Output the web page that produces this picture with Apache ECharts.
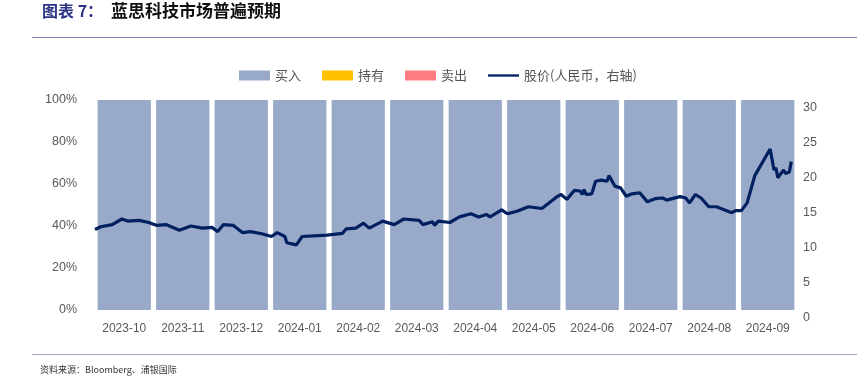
<!DOCTYPE html>
<html>
<head>
<meta charset="utf-8">
<script src="https://cdn.jsdelivr.net/npm/echarts@6/dist/echarts.min.js"></script>
<style>
  html, body { margin: 0; padding: 0; background: #fff; }
  #main { width: 857px; height: 377px; }
</style>
</head>
<body>
<div id="main"></div>
<script>
// 月份（柱状图类目）
var months = ['2023-10', '2023-11', '2023-12', '2024-01', '2024-02', '2024-03',
  '2024-04', '2024-05', '2024-06', '2024-07', '2024-08', '2024-09'];
// 分析师评级占比
var buyPct = [100, 100, 100, 100, 100, 100, 100, 100, 100, 100, 100, 100];
var holdPct = [0, 0, 0, 0, 0, 0, 0, 0, 0, 0, 0, 0];
var sellPct = [0, 0, 0, 0, 0, 0, 0, 0, 0, 0, 0, 0];
// 股价（人民币，右轴）
var priceDates = ['2023-10-01', '2023-10-04', '2023-10-10', '2023-10-15', '2023-10-18', '2023-10-24',
  '2023-10-29', '2023-11-02', '2023-11-07', '2023-11-14', '2023-11-20', '2023-11-26', '2023-12-01',
  '2023-12-04', '2023-12-07', '2023-12-12', '2023-12-17', '2023-12-21', '2023-12-27', '2024-01-01',
  '2024-01-04', '2024-01-08', '2024-01-09', '2024-01-14', '2024-01-17', '2024-01-30', '2024-02-07',
  '2024-02-09', '2024-02-14', '2024-02-18', '2024-02-21', '2024-02-28', '2024-03-05', '2024-03-10',
  '2024-03-18', '2024-03-20', '2024-03-25', '2024-03-26', '2024-03-28', '2024-04-03', '2024-04-08',
  '2024-04-14', '2024-04-18', '2024-04-22', '2024-04-24', '2024-04-30', '2024-05-03', '2024-05-08',
  '2024-05-14', '2024-05-21', '2024-05-29', '2024-05-31', '2024-06-03', '2024-06-07', '2024-06-10',
  '2024-06-11', '2024-06-12', '2024-06-13', '2024-06-16', '2024-06-18', '2024-06-21', '2024-06-24',
  '2024-06-25', '2024-06-28', '2024-07-01', '2024-07-04', '2024-07-07', '2024-07-11', '2024-07-15',
  '2024-07-19', '2024-07-23', '2024-07-25', '2024-08-01', '2024-08-04', '2024-08-06', '2024-08-09',
  '2024-08-12', '2024-08-16', '2024-08-20', '2024-08-21', '2024-08-28', '2024-08-30', '2024-09-02',
  '2024-09-05', '2024-09-09', '2024-09-17', '2024-09-19', '2024-09-20', '2024-09-21', '2024-09-24',
  '2024-09-25', '2024-09-27', '2024-09-28'];
var priceValues = [11.5, 11.9, 12.2, 13.0, 12.7, 12.8,
  12.5, 12.1, 12.2, 11.4, 12.0, 11.7, 11.8,
  11.2, 12.2, 12.1, 11.05, 11.2, 10.9, 10.5,
  11.05, 10.5, 9.6, 9.3, 10.5, 10.7, 10.95,
  11.6, 11.7, 12.4, 11.7, 12.7, 12.2, 13.0,
  12.8, 12.2, 12.6, 12.1, 12.7, 12.5, 13.3,
  13.75, 13.3, 13.65, 13.3, 14.3, 13.75, 14.1,
  14.75, 14.5, 16.2, 16.5, 15.8, 17.1, 17.0,
  16.5, 17.2, 16.5, 16.6, 18.4, 18.55, 18.4,
  19.2, 17.7, 17.45, 16.25, 16.6, 16.75, 15.45,
  15.9, 16.0, 15.7, 16.2, 16.0, 15.3, 16.5,
  16.0, 14.75, 14.75, 14.5, 13.9, 14.2, 14.2,
  15.3, 19.2, 23.0, 20.0, 20.3, 18.9, 20.0,
  19.5, 19.7, 21.2];

var priceData = priceDates.map(function (d, i) { return [d, priceValues[i]]; });

var cjk = '"Noto Sans CJK SC", sans-serif';
var num = '"Liberation Sans Narrow", "Liberation Sans", sans-serif';

var myChart = echarts.init(document.getElementById('main'));

var option = {
  animation: false,
  title: {
    text: '{a|图表 7：}{b|蓝思科技市场普遍预期}',
    left: 42,
    top: 2,
    padding: 0,
    textStyle: {
      rich: {
        a: { fontFamily: cjk, fontSize: 16, fontWeight: 'bold', color: '#2e3586' },
        b: { fontFamily: cjk, fontSize: 17, fontWeight: 'bold', color: '#111', padding: [0, 0, 0, 8] }
      }
    }
  },
  graphic: [
    { type: 'line', shape: { x1: 32, y1: 37.5, x2: 857, y2: 37.5 }, style: { stroke: '#7d84b8', lineWidth: 1 } },
    { type: 'line', shape: { x1: 32, y1: 354.5, x2: 857, y2: 354.5 }, style: { stroke: '#9ea3c8', lineWidth: 1 } },
    {
      type: 'text', left: 40, top: 365,
      style: { text: '资料来源：Bloomberg、浦银国际', fontFamily: cjk, fontSize: 9, fill: '#333' }
    }
  ],
  legend: {
    top: 69,
    left: 239,
    padding: 0,
    itemGap: 21,
    itemWidth: 31,
    itemHeight: 10,
    textStyle: { fontFamily: cjk, fontSize: 13, color: '#555' },
    data: [
      { name: '买入', icon: 'rect' },
      { name: '持有', icon: 'rect' },
      { name: '卖出', icon: 'rect' },
      { name: '股价(人民币，右轴)', icon: 'path://M0,4 L32,4 L32,6.4 L0,6.4 Z', itemStyle: { color: '#002060' } }
    ]
  },
  grid: { left: 95, right: 60, top: 100, bottom: 67 },
  xAxis: [
    {
      type: 'category',
      data: months,
      axisTick: { show: false },
      axisLine: { show: false },
      axisLabel: { interval: 0, color: '#595959', fontFamily: num, fontSize: 12, margin: 13 }
    },
    {
      type: 'time',
      min: '2023-10-01',
      max: '2024-10-01',
      show: false
    }
  ],
  yAxis: [
    {
      type: 'value',
      min: 0, max: 100, interval: 20,
      splitLine: { show: false },
      axisLine: { show: false },
      axisTick: { show: false },
      axisLabel: { color: '#595959', fontFamily: num, fontSize: 12.5, margin: 18, formatter: '{value}%' }
    },
    {
      type: 'value',
      min: 0, max: 30, interval: 5,
      splitLine: { show: false },
      axisLine: { show: false },
      axisTick: { show: false },
      axisLabel: {
        color: '#595959', fontFamily: num, fontSize: 12.5, margin: 6,
        verticalAlign: 'top', lineHeight: 15
      }
    }
  ],
  series: [
    {
      name: '买入', type: 'bar', stack: 'rating', data: buyPct,
      barCategoryGap: '9%', itemStyle: { color: '#98a9ca' }
    },
    { name: '持有', type: 'bar', stack: 'rating', data: holdPct, itemStyle: { color: '#ffc000' } },
    { name: '卖出', type: 'bar', stack: 'rating', data: sellPct, itemStyle: { color: '#ff7c80' } },
    {
      name: '股价(人民币，右轴)', type: 'line', xAxisIndex: 1, yAxisIndex: 1,
      data: priceData, symbol: 'none',
      lineStyle: { color: '#002060', width: 3.2 },
      itemStyle: { color: '#002060' }
    }
  ]
};

myChart.setOption(option);
</script>
</body>
</html>
